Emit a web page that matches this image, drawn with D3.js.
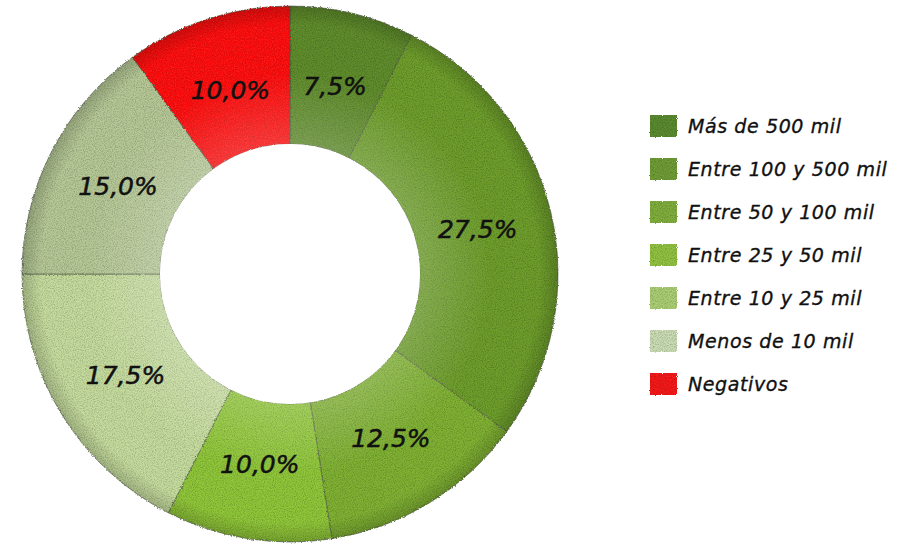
<!DOCTYPE html>
<html>
<head>
<meta charset="utf-8">
<script src="https://cdn.jsdelivr.net/npm/d3@7"></script>
<style>
  body { margin: 0; background: #fff; }
  svg { display: block; }
  .pct { font-family: "DejaVu Sans", sans-serif; font-style: italic; font-size: 25px; fill: #111; stroke: #111; stroke-width: 0.5px; }
  .leg { font-family: "DejaVu Sans", sans-serif; font-style: italic; font-size: 19px; letter-spacing: 0.6px; fill: #111; stroke: #111; stroke-width: 0.35px; }
</style>
</head>
<body>
<svg id="chart"></svg>
<script>
// slice order clockwise from 12 o'clock
const categories = ["Más de 500 mil", "Entre 100 y 500 mil", "Entre 50 y 100 mil",
    "Entre 25 y 50 mil", "Entre 10 y 25 mil", "Menos de 10 mil", "Negativos"];
const shares = [7.5, 27.5, 12.5, 10.0, 17.5, 15.0, 10.0];
const sliceColors = ["#618d2e", "#6e9e2e", "#80b134", "#90c63a", "#c5db9e", "#b5c896", "#ff1414"];
const legendColors = ["#5b8a30", "#6f9c38", "#80ae3c", "#91c143", "#abcd74", "#c9dcb2", "#f41c1c"];

const W = 921, H = 545;
const cx = 290, cy = 274;
const outerR = 268, innerR = 130;

const svg = d3.select("#chart").attr("width", W).attr("height", H);

// rough canvas-like texture
const defs = svg.append("defs");
const tex = defs.append("filter").attr("id", "tex")
    .attr("x", "-5%").attr("y", "-5%").attr("width", "110%").attr("height", "110%");
tex.append("feTurbulence").attr("type", "fractalNoise")
    .attr("baseFrequency", 0.9).attr("numOctaves", 2).attr("seed", 3).attr("result", "noise");
tex.append("feDisplacementMap").attr("in", "SourceGraphic").attr("in2", "noise")
    .attr("scale", 3).attr("xChannelSelector", "R").attr("yChannelSelector", "G").attr("result", "rough");
tex.append("feColorMatrix").attr("in", "noise").attr("type", "matrix")
    .attr("values", "0 0 0 0 0  0 0 0 0 0  0 0 0 0 0  0 0 0 -0.9 0.55").attr("result", "shade");
tex.append("feComposite").attr("in", "shade").attr("in2", "rough").attr("operator", "in").attr("result", "shadeIn");
tex.append("feMerge").selectAll("feMergeNode")
    .data(["rough", "shadeIn"]).enter().append("feMergeNode").attr("in", d => d);

// soft lighting: lighter toward the hole, darker at the rim
const light = defs.append("radialGradient").attr("id", "light")
    .attr("gradientUnits", "userSpaceOnUse")
    .attr("cx", cx).attr("cy", cy).attr("r", outerR);
light.selectAll("stop")
    .data([
        { offset: innerR / outerR, color: "#fff", op: 0.18 },
        { offset: 0.75, color: "#fff", op: 0.0 },
        { offset: 0.93, color: "#000", op: 0.0 },
        { offset: 1, color: "#000", op: 0.18 }
    ])
    .enter().append("stop")
    .attr("offset", d => d.offset)
    .attr("stop-color", d => d.color)
    .attr("stop-opacity", d => d.op);

const pie = d3.pie().sort(null).value(d => d)
    .startAngle(0).endAngle(2 * Math.PI);
const arcs = pie(shares);

const arc = d3.arc().innerRadius(innerR).outerRadius(outerR);
const labelArc = d3.arc().innerRadius(193).outerRadius(193);

const g = svg.append("g").attr("transform", `translate(${cx},${cy})`);

g.append("g").attr("filter", "url(#tex)")
    .selectAll("path")
    .data(arcs)
    .enter()
    .append("path")
    .attr("d", arc)
    .attr("fill", (d, i) => sliceColors[i])
    .attr("stroke", "#4f5846")
    .attr("stroke-opacity", 0.6)
    .attr("stroke-width", 1);

g.append("circle")
    .attr("r", outerR)
    .attr("fill", "url(#light)")
    .attr("transform", `translate(${-cx},${-cy})`)
    .attr("cx", cx).attr("cy", cy)
    .style("pointer-events", "none");
// punch the hole back to white
g.append("circle").attr("r", innerR).attr("fill", "#fff");

const fmt = v => v.toFixed(1).replace(".", ",") + "%";

g.selectAll("text.pct")
    .data(arcs)
    .enter()
    .append("text")
    .attr("class", "pct")
    .attr("transform", d => `translate(${labelArc.centroid(d)})`)
    .attr("text-anchor", "middle")
    .attr("dy", "0.35em")
    .text(d => fmt(d.data));

// legend
const legendY = d3.scalePoint().domain(categories).range([126, 384]);
const legend = svg.append("g").attr("id", "legend");

const rows = legend.selectAll("g")
    .data(categories)
    .enter()
    .append("g")
    .attr("transform", d => `translate(650, ${legendY(d)})`);

rows.append("rect")
    .attr("x", 0).attr("y", -11)
    .attr("width", 27).attr("height", 22)
    .attr("fill", (d, i) => legendColors[i])
    .attr("filter", "url(#tex)");

rows.append("text")
    .attr("class", "leg")
    .attr("x", 38)
    .attr("dy", "0.35em")
    .text(d => d);
</script>
</body>
</html>
